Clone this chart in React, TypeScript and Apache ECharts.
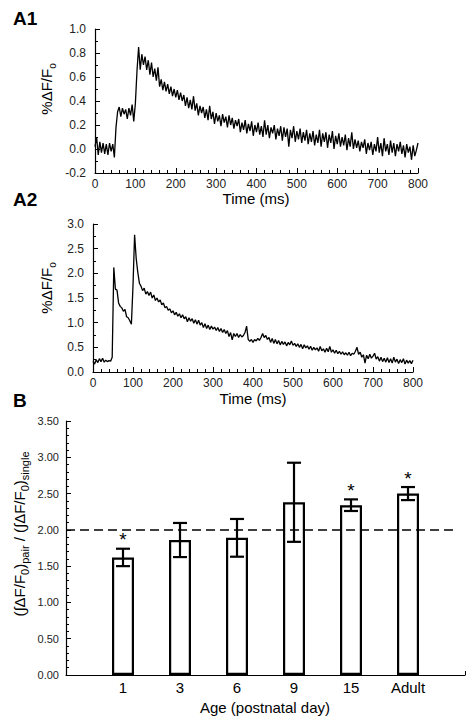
import React, { useEffect, useRef } from "react";
import * as echarts from "echarts";

// ---------- Data ----------
const TIME_STEP_MS = 4;

// Panel A1: %ΔF/Fo, sampled every 4 ms from 0 to 800 ms
const a1Values = [
  0.02, 0.10, -0.05, 0.06, -0.03, 0.05, -0.04, 0.04, -0.05, 0.05,
  -0.02, 0.04, -0.07, 0.18, 0.31, 0.35, 0.27, 0.34, 0.29, 0.33,
  0.25, 0.34, 0.28, 0.37, 0.23, 0.38, 0.65, 0.85, 0.66, 0.79,
  0.70, 0.77, 0.66, 0.74, 0.62, 0.72, 0.60, 0.67, 0.57, 0.68,
  0.52, 0.58, 0.49, 0.56, 0.48, 0.54, 0.46, 0.52, 0.44, 0.50,
  0.43, 0.49, 0.41, 0.47, 0.40, 0.45, 0.36, 0.43, 0.34, 0.41,
  0.33, 0.44, 0.32, 0.38, 0.28, 0.36, 0.30, 0.35, 0.26, 0.33,
  0.24, 0.36, 0.25, 0.31, 0.21, 0.30, 0.23, 0.28, 0.19, 0.29,
  0.22, 0.27, 0.18, 0.28, 0.20, 0.26, 0.17, 0.24, 0.19, 0.25,
  0.14, 0.22, 0.16, 0.24, 0.13, 0.21, 0.15, 0.23, 0.11, 0.20,
  0.14, 0.22, 0.12, 0.19, 0.10, 0.24, 0.12, 0.20, 0.09, 0.18,
  0.13, 0.20, 0.08, 0.17, 0.11, 0.19, 0.07, 0.18, 0.10, 0.17,
  0.02, 0.16, 0.09, 0.19, 0.06, 0.15, 0.08, 0.17, 0.05, 0.14,
  0.07, 0.16, 0.04, 0.13, 0.06, 0.15, 0.03, 0.12, 0.05, 0.16,
  0.02, 0.13, 0.06, 0.14, 0.01, 0.12, 0.05, 0.15, 0.00, 0.11,
  0.04, 0.13, 0.02, 0.10, 0.03, 0.12, -0.01, 0.09, 0.02, 0.14,
  0.00, 0.08, 0.01, 0.07, -0.02, 0.06, 0.01, 0.08, -0.04, 0.05,
  -0.01, 0.06, -0.05, 0.04, -0.02, 0.10, -0.03, 0.05, -0.06, 0.09,
  -0.02, 0.04, -0.05, 0.07, -0.03, 0.05, -0.06, 0.04, -0.02, 0.06,
  -0.04, 0.03, -0.07, 0.04, -0.03, 0.02, -0.09, 0.03, -0.06, -0.01,
  0.05,
];

// Panel A2: %ΔF/Fo, sampled every 4 ms from 0 to 800 ms
const a2Values = [
  0.22, 0.16, 0.25, 0.19, 0.27, 0.21, 0.28, 0.20, 0.24, 0.21,
  0.23, 0.22, 0.30, 2.12, 1.68, 1.66, 1.40, 1.33, 1.30, 1.23,
  1.27, 1.12, 1.10, 1.04, 0.97, 1.75, 2.78, 2.30, 2.02, 1.80,
  1.74, 1.65, 1.70, 1.58, 1.63, 1.55, 1.62, 1.50, 1.56, 1.45,
  1.50, 1.42, 1.46, 1.36, 1.40, 1.30, 1.33, 1.25, 1.28, 1.20,
  1.24, 1.16, 1.21, 1.13, 1.18, 1.10, 1.16, 1.08, 1.12, 1.02,
  1.10, 1.03, 1.08, 0.99, 1.06, 0.97, 1.05, 0.95, 1.00, 0.90,
  0.98, 0.88, 0.95, 0.86, 0.93, 0.87, 0.91, 0.84, 0.90, 0.82,
  0.88, 0.80, 0.86, 0.78, 0.84, 0.72, 0.80, 0.65, 0.78, 0.72,
  0.78, 0.70, 0.76, 0.71, 0.74, 0.80, 0.93, 0.66, 0.62, 0.66,
  0.60, 0.66, 0.63, 0.68, 0.64, 0.70, 0.78, 0.70, 0.74, 0.66,
  0.70, 0.60, 0.68, 0.58, 0.66, 0.57, 0.64, 0.55, 0.62, 0.56,
  0.61, 0.53, 0.60, 0.55, 0.63, 0.54, 0.58, 0.52, 0.57, 0.50,
  0.56, 0.47, 0.55, 0.49, 0.53, 0.46, 0.52, 0.44, 0.50, 0.45,
  0.49, 0.42, 0.52, 0.43, 0.47, 0.40, 0.48, 0.41, 0.52, 0.40,
  0.45, 0.38, 0.44, 0.37, 0.42, 0.36, 0.41, 0.35, 0.39, 0.34,
  0.40, 0.33, 0.38, 0.36, 0.42, 0.50, 0.36, 0.40, 0.30, 0.35,
  0.18, 0.34, 0.27, 0.36, 0.28, 0.32, 0.38, 0.26, 0.31, 0.22,
  0.30, 0.21, 0.28, 0.20, 0.29, 0.19, 0.27, 0.18, 0.30, 0.20,
  0.26, 0.17, 0.25, 0.19, 0.27, 0.16, 0.24, 0.18, 0.23, 0.17,
  0.24,
];

// Panel B
const ageCategories = ["1", "3", "6", "9", "15", "Adult"];
const ratioMeans = [1.62, 1.86, 1.89, 2.38, 2.34, 2.5];
const ratioErrors = [0.12, 0.235, 0.26, 0.545, 0.08, 0.09];
const significant = [true, false, false, false, true, true];
const referenceRatio = 2.0;

// ---------- Styling ----------
const FONT = "'Liberation Sans', Arial, Helvetica, sans-serif";
const BLACK = "#000";
const LABEL = "#222";

function traceAxisX(gridIndex: number) {
  return {
    gridIndex,
    type: "value",
    min: 0,
    max: 800,
    interval: 100,
    axisLine: { show: true, onZero: false, lineStyle: { color: BLACK, width: 1.2 } },
    axisTick: { show: true, inside: true, length: 5, lineStyle: { color: BLACK, width: 1 } },
    minorTick: { show: true, splitNumber: 5, length: 3, lineStyle: { color: BLACK, width: 1 } },
    axisLabel: { fontSize: 12, color: LABEL, fontFamily: FONT, margin: 5 },
    splitLine: { show: false },
    minorSplitLine: { show: false },
  };
}

function fmt(v: number, d: number) {
  if (Math.abs(v) < 1e-9) return (0).toFixed(d);
  return v.toFixed(d);
}

export default function App() {
  const ref = useRef<HTMLDivElement>(null);

  useEffect(() => {
    if (!ref.current) return;
    const chart = echarts.init(ref.current, undefined, { renderer: "svg" });

    const a1Data = a1Values.map((v, i) => [i * TIME_STEP_MS, v]);
    const a2Data = a2Values.map((v, i) => [i * TIME_STEP_MS, v]);
    const barData = ratioMeans.map((m, i) => [i + 1, m]);
    const errData = ratioMeans.map((m, i) => [i + 1, m, ratioErrors[i], significant[i] ? 1 : 0]);

    const titleStyle = { fontFamily: FONT, fill: BLACK };
    const traceTitleRich = {
      a: { fontSize: 15, lineHeight: 22, fontFamily: FONT, fill: BLACK },
      s: { fontSize: 10, lineHeight: 10, verticalAlign: "bottom", fontFamily: FONT, fill: BLACK },
    };

    const option: any = {
      animation: false,
      backgroundColor: "#fff",
      grid: [
        { left: 95, top: 29, width: 323, height: 144 },
        { left: 93, top: 224, width: 320, height: 148 },
        { left: 66, top: 421, width: 399, height: 254 },
      ],
      xAxis: [
        traceAxisX(0),
        traceAxisX(1),
        {
          gridIndex: 2,
          type: "value",
          min: 0,
          max: 7,
          interval: 1,
          axisLine: { show: true, onZero: false, lineStyle: { color: BLACK, width: 1.2 } },
          axisTick: {
            show: true,
            inside: true,
            length: 4,
            customValues: [7],
            lineStyle: { color: BLACK, width: 1 },
          },
          axisLabel: {
            fontSize: 15,
            color: BLACK,
            fontFamily: FONT,
            margin: 5,
            customValues: [1, 2, 3, 4, 5, 6],
            formatter: (v: number) => ageCategories[Math.round(v) - 1] ?? "",
          },
          splitLine: { show: false },
        },
      ],
      yAxis: [
        {
          gridIndex: 0,
          type: "value",
          min: -0.2,
          max: 1.0,
          interval: 0.2,
          axisLine: { show: true, onZero: false, lineStyle: { color: BLACK, width: 1.2 } },
          axisTick: { show: true, inside: true, length: 5, lineStyle: { color: BLACK, width: 1 } },
          minorTick: { show: true, splitNumber: 2, length: 3, lineStyle: { color: BLACK, width: 1 } },
          axisLabel: { fontSize: 12, color: LABEL, fontFamily: FONT, margin: 9, formatter: (v: number) => fmt(v, 1) },
          splitLine: { show: false },
        },
        {
          gridIndex: 1,
          type: "value",
          min: 0,
          max: 3.0,
          interval: 0.5,
          axisLine: { show: true, onZero: false, lineStyle: { color: BLACK, width: 1.2 } },
          axisTick: { show: true, inside: true, length: 5, lineStyle: { color: BLACK, width: 1 } },
          minorTick: { show: true, splitNumber: 2, length: 3, lineStyle: { color: BLACK, width: 1 } },
          axisLabel: { fontSize: 12, color: LABEL, fontFamily: FONT, margin: 9, formatter: (v: number) => fmt(v, 1) },
          splitLine: { show: false },
        },
        {
          gridIndex: 2,
          type: "value",
          min: 0,
          max: 3.5,
          interval: 0.5,
          axisLine: { show: true, onZero: false, lineStyle: { color: BLACK, width: 1.2 } },
          axisTick: { show: true, inside: true, length: 5, lineStyle: { color: BLACK, width: 1 } },
          minorTick: { show: true, splitNumber: 5, length: 3, lineStyle: { color: BLACK, width: 1 } },
          axisLabel: { fontSize: 11, color: LABEL, fontFamily: FONT, margin: 7, formatter: (v: number) => fmt(v, 2) },
          splitLine: { show: false },
        },
      ],
      series: [
        {
          type: "line",
          xAxisIndex: 0,
          yAxisIndex: 0,
          data: a1Data,
          showSymbol: false,
          symbol: "none",
          lineStyle: { color: BLACK, width: 1.3 },
          silent: true,
        },
        {
          type: "line",
          xAxisIndex: 1,
          yAxisIndex: 1,
          data: a2Data,
          showSymbol: false,
          symbol: "none",
          lineStyle: { color: BLACK, width: 1.3 },
          silent: true,
        },
        {
          type: "bar",
          xAxisIndex: 2,
          yAxisIndex: 2,
          data: barData,
          barWidth: 22,
          itemStyle: { color: "#fff", borderColor: BLACK, borderWidth: 2.2 },
          silent: true,
          markLine: {
            silent: true,
            symbol: "none",
            label: { show: false },
            lineStyle: { color: BLACK, width: 1.5, type: [9, 5] },
            data: [[{ coord: [0, referenceRatio] }, { coord: [6.85, referenceRatio] }]],
          },
          z: 2,
        },
        {
          type: "custom",
          xAxisIndex: 2,
          yAxisIndex: 2,
          data: errData,
          silent: true,
          z: 4,
          renderItem: (_params: any, api: any) => {
            const x = api.value(0);
            const m = api.value(1);
            const e = api.value(2);
            const sig = api.value(3);
            const top = api.coord([x, m + e]);
            const bot = api.coord([x, m - e]);
            const hw = 7;
            const ls = { stroke: BLACK, lineWidth: 2.2 };
            const children: any[] = [
              { type: "line", shape: { x1: top[0], y1: top[1], x2: bot[0], y2: bot[1] }, style: ls },
              { type: "line", shape: { x1: top[0] - hw, y1: top[1], x2: top[0] + hw, y2: top[1] }, style: ls },
              { type: "line", shape: { x1: bot[0] - hw, y1: bot[1], x2: bot[0] + hw, y2: bot[1] }, style: ls },
            ];
            if (sig) {
              children.push({
                type: "text",
                x: top[0],
                y: top[1] - 9,
                style: {
                  text: "*",
                  fontSize: 19,
                  fontFamily: FONT,
                  fill: BLACK,
                  align: "center",
                  verticalAlign: "middle",
                },
              });
            }
            return { type: "group", children };
          },
        },
      ],
      graphic: [
        { type: "text", left: 13, top: 9, style: { text: "A1", fontSize: 19, fontWeight: "bold", ...titleStyle } },
        { type: "text", left: 13, top: 190, style: { text: "A2", fontSize: 19, fontWeight: "bold", ...titleStyle } },
        { type: "text", left: 13, top: 391, style: { text: "B", fontSize: 19, fontWeight: "bold", ...titleStyle } },
        {
          type: "text",
          x: 256,
          y: 198,
          style: { text: "Time (ms)", fontSize: 15, align: "center", verticalAlign: "middle", ...titleStyle },
        },
        {
          type: "text",
          x: 253,
          y: 398,
          style: { text: "Time (ms)", fontSize: 15, align: "center", verticalAlign: "middle", ...titleStyle },
        },
        {
          type: "text",
          x: 265,
          y: 707,
          style: { text: "Age (postnatal day)", fontSize: 15, align: "center", verticalAlign: "middle", ...titleStyle },
        },
        {
          type: "text",
          x: 46,
          y: 89,
          rotation: Math.PI / 2,
          style: {
            text: "{a|%ΔF/F}{s|o}",
            align: "center",
            verticalAlign: "middle",
            ...titleStyle,
            rich: traceTitleRich,
          },
        },
        {
          type: "text",
          x: 46,
          y: 288,
          rotation: Math.PI / 2,
          style: {
            text: "{a|%ΔF/F}{s|o}",
            align: "center",
            verticalAlign: "middle",
            ...titleStyle,
            rich: traceTitleRich,
          },
        },
        {
          type: "text",
          x: 19,
          y: 534,
          rotation: Math.PI / 2,
          style: {
            text: "{a|(∫ΔF/F}{s|0}{a|)}{s|pair}{a| / (∫ΔF/F}{s|0}{a|)}{s|single}",
            align: "center",
            verticalAlign: "middle",
            ...titleStyle,
            rich: {
              a: { fontSize: 15, lineHeight: 22, fontFamily: FONT, fill: BLACK },
              s: { fontSize: 11, lineHeight: 11, verticalAlign: "bottom", fontFamily: FONT, fill: BLACK },
            },
          },
        },
      ],
    };

    chart.setOption(option);
    return () => chart.dispose();
  }, []);

  return (
    <div
      ref={ref}
      style={{ position: "fixed", left: 0, top: 0, width: 474, height: 724, background: "#fff" }}
    />
  );
}
